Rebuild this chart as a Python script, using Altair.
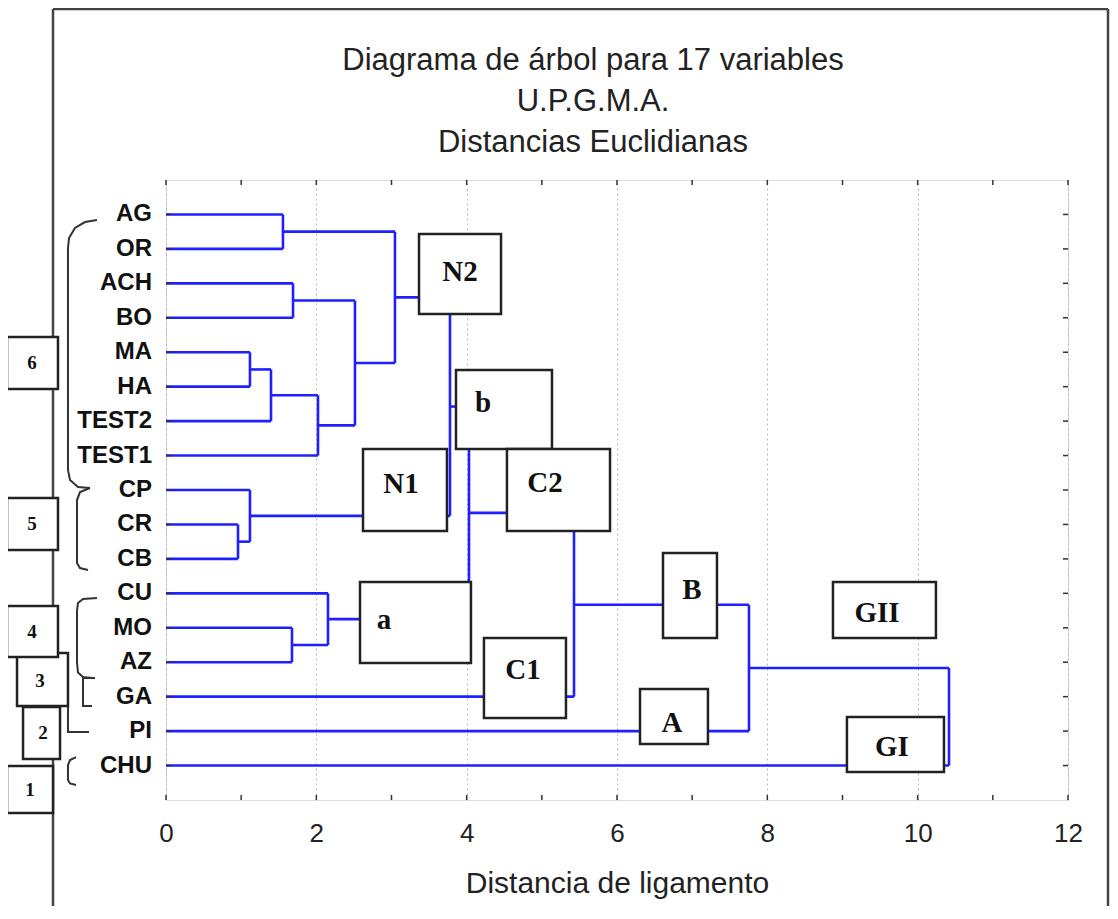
import altair as alt
import pandas as pd

# ---------------- data ----------------
labels = ["AG", "OR", "ACH", "BO", "MA", "HA", "TEST2", "TEST1", "CP",
          "CR", "CB", "CU", "MO", "AZ", "GA", "PI", "CHU"]

# UPGMA merges (m0 .. m15): child a, child b, linkage distance
merge_a = ["AG", "ACH", "MA", "m2", "m3", "m1", "m0", "CR", "CP", "m6",
           "MO", "CU", "m9", "m12", "m13", "m14"]
merge_b = ["OR", "BO", "HA", "TEST2", "TEST1", "m4", "m5", "CB", "m7", "m8",
           "AZ", "m10", "m11", "GA", "PI", "CHU"]
merge_h = [1.556, 1.69, 1.117, 1.397, 2.022, 2.514, 3.046, 0.958, 1.117, 3.778,
           1.676, 2.155, 4.031, 5.428, 7.756, 10.417]

# annotation boxes inside the plot (distance units / row units)
box_text = ["N2", "b", "N1", "C2", "a", "C1", "B", "A", "GII", "GI"]
box_x1 = [3.366, 3.858, 2.621, 4.536, 2.581, 4.230, 6.612, 6.306, 8.873, 9.059]
box_x2 = [4.457, 5.135, 3.738, 5.907, 4.057, 5.321, 7.330, 7.210, 10.243, 10.350]
box_y1 = [1.568, 5.517, 7.811, 7.811, 11.672, 13.298, 10.830, 14.779, 11.672, 15.592]
box_y2 = [3.891, 7.811, 10.192, 10.192, 14.024, 15.621, 13.298, 16.376, 13.298, 17.189]
box_tx = [3.911, 4.217, 3.126, 5.042, 2.900, 4.749, 6.997, 6.731, 9.459, 9.658]
box_ty = [2.671, 6.475, 8.827, 8.798, 12.776, 14.228, 11.905, 15.767, 12.573, 16.463]

# group number boxes on the left
grp_text = ["6", "5", "3", "4", "2", "1"]
grp_x1 = [-2.115, -2.115, -1.982, -2.115, -1.902, -2.115]
grp_x2 = [-1.437, -1.437, -1.304, -1.437, -1.410, -1.503]
grp_y1 = [4.559, 9.233, 13.734, 12.369, 15.302, 17.015]
grp_y2 = [6.069, 10.743, 15.273, 13.850, 16.812, 18.380]
grp_tx = [-1.783, -1.783, -1.676, -1.783, -1.636, -1.809]
grp_ty = [5.314, 9.988, 14.547, 13.124, 16.057, 17.700]

# brackets joining labels to the group boxes
bracket_x = [
    [-0.918, -1.078, -1.211, -1.290, -1.304, -1.304, -1.277, -1.171, -1.011],
    [-1.011, -1.144, -1.184, -1.184, -1.144, -1.038],
    [-0.918, -1.104, -1.171, -1.184, -1.184, -1.171, -1.104, -0.984],
    [-0.945, -1.104, -1.104, -0.984],
    [-1.304, -1.304, -1.024],
    [-1.197, -1.277, -1.304, -1.304, -1.277, -1.197],
]
bracket_y = [
    [1.161, 1.220, 1.394, 1.684, 1.974, 8.420, 8.711, 8.914, 8.943],
    [8.943, 9.060, 9.291, 11.121, 11.266, 11.324],
    [12.137, 12.166, 12.282, 12.500, 14.000, 14.300, 14.431, 14.460],
    [14.460, 14.460, 15.273, 15.273],
    [15.273, 16.028, 16.028],
    [16.754, 16.841, 16.986, 17.422, 17.520, 17.567],
]

x_ticks = list(range(0, 13))
x_labels = [0, 2, 4, 6, 8, 10, 12]
title_lines = ["Diagrama de árbol para 17 variables", "U.P.G.M.A.", "Distancias Euclidianas"]
x_title = "Distancia de ligamento"

# ---------------- derived tables ----------------
pos = {lab: (0.0, i + 1) for i, lab in enumerate(labels)}
segs = []
for k, (a, b, h) in enumerate(zip(merge_a, merge_b, merge_h)):
    ha, ya = pos[a]
    hb, yb = pos[b]
    segs.append(dict(x=ha, x2=h, y=ya, y2=ya))
    segs.append(dict(x=hb, x2=h, y=yb, y2=yb))
    segs.append(dict(x=h, x2=h, y=ya, y2=yb))
    pos[f"m{k}"] = (h, (ya + yb) / 2)
seg_df = pd.DataFrame(segs)

box_df = pd.DataFrame(dict(t=box_text, x1=box_x1, x2=box_x2, y1=box_y1, y2=box_y2,
                           tx=box_tx, ty=box_ty))
grp_df = pd.DataFrame(dict(t=grp_text, x1=grp_x1, x2=grp_x2, y1=grp_y1, y2=grp_y2,
                           tx=grp_tx, ty=grp_ty))
br_rows = []
for bi, (xs, ys) in enumerate(zip(bracket_x, bracket_y)):
    for pi, (xv, yv) in enumerate(zip(xs, ys)):
        br_rows.append(dict(b=bi, i=pi, x=xv, y=yv))
br_df = pd.DataFrame(br_rows)
rows_df = pd.DataFrame(dict(r=list(range(1, len(labels) + 1)), lab=labels))
xt_df = pd.DataFrame(dict(v=x_ticks))
lab_df = pd.DataFrame(dict(v=x_labels))

W, H = 902, 620
XS = alt.Scale(domain=[0, 12], nice=False, zero=False)
YS = alt.Scale(domain=[0, 18], nice=False, zero=False, reverse=True)
SANS = "Liberation Sans, Arial, sans-serif"
SERIF = "Liberation Serif, Times New Roman, serif"


def Y(field):
    return alt.Y(field, scale=YS, axis=None)


# frame (decoration)
frame = alt.Chart(pd.DataFrame(dict(k=[0]))).mark_rule(color="#444", strokeWidth=2.5)
frame_top = frame.encode(x=alt.value(-113), x2=alt.value(942), y=alt.value(-171))
frame_left = frame.encode(x=alt.value(-113), y=alt.value(-171), y2=alt.value(740))
frame_right = frame.encode(x=alt.value(942), y=alt.value(-171), y2=alt.value(740))

# x axis + grid layer
axes = alt.Chart(lab_df).mark_point(opacity=0).encode(
    x=alt.X("v:Q", scale=XS, title=x_title,
            axis=alt.Axis(values=x_labels, format="d", grid=True, gridDash=[2, 3],
                          gridColor="#b5b5b5", gridWidth=1, ticks=False, tickSize=0,
                          domain=False, labelFont=SANS, labelFontSize=26, labelColor="#222",
                          labelPadding=20, labelOverlap=False, labelFlush=False,
                          titleFont=SANS, titleFontSize=30,
                          titleFontWeight="normal", titleColor="#222", titlePadding=22)),
    y=alt.value(0),
)

# row labels
row_lab = alt.Chart(rows_df).mark_text(font=SANS, fontSize=24, fontWeight="bold",
                                       color="#111", align="right", baseline="middle").encode(
    y=Y("r:Q"), x=alt.value(-14), text="lab:N")

dendro = alt.Chart(seg_df).mark_rule(color="#1f1fff", strokeWidth=2.6).encode(
    x=alt.X("x:Q", scale=XS), x2="x2:Q", y=Y("y:Q"), y2="y2:Q")

tick_top = alt.Chart(xt_df).mark_rule(color="#333", strokeWidth=1.5).encode(
    x=alt.X("v:Q", scale=XS), y=alt.value(0), y2=alt.value(5))
tick_bot = alt.Chart(xt_df).mark_rule(color="#333", strokeWidth=1.5).encode(
    x=alt.X("v:Q", scale=XS), y=alt.value(H), y2=alt.value(H - 5))
tick_l = alt.Chart(rows_df).mark_rule(color="#333", strokeWidth=1.5).encode(
    y=Y("r:Q"), x=alt.value(0), x2=alt.value(5))
tick_r = alt.Chart(rows_df).mark_rule(color="#333", strokeWidth=1.5).encode(
    y=Y("r:Q"), x=alt.value(W), x2=alt.value(W - 5))

boxes = alt.Chart(box_df).mark_rect(fill="white", stroke="#222", strokeWidth=2.5).encode(
    x=alt.X("x1:Q", scale=XS), x2="x2:Q", y=Y("y1:Q"), y2="y2:Q")
box_lab = alt.Chart(box_df).mark_text(font=SERIF, fontSize=29, fontWeight="bold",
                                      color="#111", align="center", baseline="middle").encode(
    x=alt.X("tx:Q", scale=XS), y=Y("ty:Q"), text="t:N")

brackets = alt.Chart(br_df).mark_line(color="#333", strokeWidth=2, clip=False).encode(
    x=alt.X("x:Q", scale=XS), y=Y("y:Q"), detail="b:N", order="i:Q")

grp = alt.Chart(grp_df).mark_rect(fill="white", stroke="#222", strokeWidth=2.5).encode(
    x=alt.X("x1:Q", scale=XS), x2="x2:Q", y=Y("y1:Q"), y2="y2:Q")
grp_lab = alt.Chart(grp_df).mark_text(font=SERIF, fontSize=19, fontWeight="bold",
                                      color="#111", align="center", baseline="middle").encode(
    x=alt.X("tx:Q", scale=XS), y=Y("ty:Q"), text="t:N")

title = alt.Chart(pd.DataFrame(dict(t=["\n".join(title_lines)]))).mark_text(
    font=SANS, fontSize=31, color="#222", align="center", baseline="alphabetic",
    lineBreak="\n", lineHeight=41).encode(x=alt.value(427), y=alt.value(-110), text="t:N")

chart = alt.layer(
    axes, frame_top, frame_left, frame_right, dendro, tick_top, tick_bot, tick_l, tick_r,
    row_lab, boxes, box_lab, brackets, grp, grp_lab, title
).properties(
    width=W, height=H,
    autosize=alt.AutoSizeParams(type="none"),
    padding={"left": 158, "top": 172, "right": 42, "bottom": 106},
).configure_view(stroke="#333", strokeWidth=2.5).configure(background="white")

chart.save("out.html", embed_options={"renderer": "svg", "actions": False})
